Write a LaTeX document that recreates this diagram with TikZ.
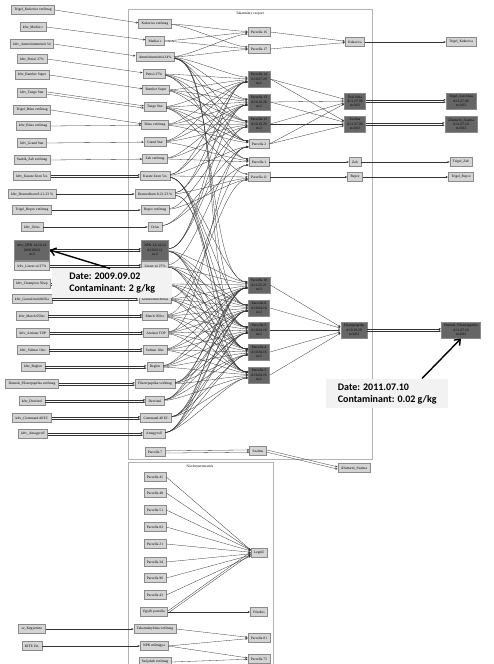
\documentclass[tikz,border=0pt]{standalone}
\usepackage{fontspec}
\setmainfont{Liberation Serif}
\newfontfamily\annfont{Carlito}
\usetikzlibrary{arrows.meta,calc}
\definecolor{nodefill}{HTML}{D4D4D4}
\definecolor{nodeline}{HTML}{8A8A8A}
\definecolor{darkfill}{HTML}{666666}
\definecolor{clline}{HTML}{B4B4B4}
\definecolor{edgecol}{HTML}{333333}
\definecolor{annfill}{HTML}{F2F2F2}
\newcommand\edg[2]{\draw[ed] let \p1=(#1.east), \p2=(#2.west),
  \n1={max(-3,min(3,(\y1-\y2)/12))}, \n2={max(-1.5,min(1.5,(\y2-\y1)/40))}
  in ([yshift=\n2]\p1) to[out=0,in=180,looseness=0.45] ([yshift=\n1]\p2);}
\newcommand\sedg[2]{\draw[ed] let \p1=(#1.east), \p2=(#2.west),
  \n1={max(-3,min(3,(\y1-\y2)/12))}
  in (\p1) -- ([yshift=\n1]\p2);}
\newcommand\dedg[2]{\draw[ed] ([yshift=1.1pt]#1.east) -- ([yshift=1.1pt]#2.west);
  \draw[ed] ([yshift=-1.1pt]#1.east) -- ([yshift=-1.1pt]#2.west);}
\begin{document}
\begin{tikzpicture}[x=1pt,y=-1pt,
  nd/.style={draw=nodeline, fill=nodefill, line width=0.5pt, font=\fontsize{3.6}{4.3}\selectfont,
    inner xsep=3pt, inner ysep=0pt, minimum height=9pt, align=center},
  dk/.style={nd, fill=darkfill, minimum height=16.5pt},
  ed/.style={draw=edgecol, line width=0.3pt, -{Stealth[length=2.4pt,width=1.9pt]}},
  cl/.style={draw=clline, line width=0.9pt},
  cllab/.style={font=\fontsize{3.6}{4.3}\selectfont, inner sep=0pt},
  ann/.style={fill=annfill, font=\annfont\bfseries\fontsize{10}{12}\selectfont, align=left, inner xsep=2pt, inner ysep=2pt},
  bigarrow/.style={line width=1.4pt, -{Straight Barb[length=5pt,width=8pt]}}]
\useasboundingbox (0,0) rectangle (494,664);
\fill[white] (0,0) rectangle (494,664);
% clusters
\draw[cl] (128,9) rectangle (372,459);
\node[cllab] (c1lab) at (250,13.5) {Takarmány csoport};
\draw[cl] (128,668) -- (128,462) -- (273,462) -- (273,668);
\node[cllab] (c2lab) at (200,466.5) {Növénytermesztés};
% left column
\node[nd] (L1) at (33,10) {Trigel\_Kukorica vetőmag};
\node[nd] (L2) at (33,27) {kftv\_Mediai c};
\node[nd] (L3) at (32,44) {kftv\_Ammóniumnitrát 34};
\node[nd] (L4) at (32,59) {kftv\_Petisó 27\%};
\node[nd] (L5) at (32,75) {kftv\_Bamber Super};
\node[nd] (L6) at (32,93) {kftv\_Tango Star};
\node[nd] (L7) at (32,110) {Trigel\_Búza vetőmag};
\node[nd] (L8) at (33,126) {kftv\_Búza vetőmag};
\node[nd] (L9) at (32,143) {kftv\_Grand Star};
\node[nd] (L10) at (32,160) {Szabik\_Zab vetőmag};
\node[nd] (L11) at (32,176) {kftv\_Karate Zeon 5cs};
\node[nd] (L12) at (32,194) {kftv\_Desmeditam 8-21-23 \%};
\node[nd] (L13) at (32,210) {Trigel\_Repce vetőmag};
\node[nd] (L14) at (32,227) {kftv\_Orius};
\node[dk, minimum height=20pt] (L15) at (32,250) {kftv\_NPK 14-14-14\\2009.09.02\\m:2};
\node[nd] (L16) at (32,266) {kftv\_Linzer só 27\%};
\node[nd] (L17) at (32,284) {kftv\_Champion 50wp};
\node[nd] (L18) at (32,299) {kftv\_Granul mulchfólia};
\node[nd] (L19) at (32,316) {kftv\_Match 050ec};
\node[nd] (L20) at (33,333) {kftv\_Amistar TOP};
\node[nd] (L21) at (33,350) {kftv\_Sulmar 10ec};
\node[nd] (L22) at (33,367) {kftv\_Reglon};
\node[nd] (L23) at (32,384) {Dusnok\_Fűszerpaprika vetőmag};
\node[nd] (L24) at (32,401) {kftv\_Devrinol};
\node[nd] (L25) at (32,418) {kftv\_Command 48 EC};
\node[nd] (L26) at (33,434) {kftv\_Amagyroll};
\node[nd] (L27) at (32,629) {sz\_Kegyereno};
\node[nd] (L28) at (32,646) {KITE Zrt.};
% middle column
\node[nd] (M1) at (155,24) {Kukorica vetőmag};
\node[nd] (M2) at (155,41) {Mediai c};
\node[nd] (M3) at (155,57) {Ammóniumnitrát 34\%};
\node[nd] (M4) at (154,74) {Petisó 27\%};
\node[nd] (M5) at (156,90) {Bamber Super};
\node[nd] (M6) at (155,107) {Tango Star};
\node[nd] (M7) at (155,125) {Búza vetőmag};
\node[nd] (M8) at (155,142) {Grand Star};
\node[nd] (M9) at (155,159) {Zab vetőmag};
\node[nd] (M10) at (155,176) {Karate Zeon 5cs};
\node[nd] (M11) at (155,194) {Desmeditam 8-21-23 \%};
\node[nd] (M12) at (155,210) {Repce vetőmag};
\node[nd] (M13) at (155,227) {Orius};
\node[dk, minimum height=20pt] (M14) at (155,250) {NPK 14-14-14\\d:10.03.11\\m:2};
\node[nd] (M15) at (155,266) {Linzer só 27\%};
\node[nd] (M16) at (155,284) {Champion 50wp};
\node[nd] (M17) at (155,299) {Granul mulchfólia};
\node[nd] (M18) at (155,316) {Match 050ec};
\node[nd] (M19) at (156,333) {Amistar TOP};
\node[nd] (M20) at (155,350) {Sulmar 10ec};
\node[nd] (M21) at (155,367) {Reglon};
\node[nd] (M22) at (155,384) {Fűszerpaprika vetőmag};
\node[nd] (M23) at (155,401) {Devrinol};
\node[nd] (M24) at (156,418) {Command 48 EC};
\node[nd] (M25) at (154,434) {Amagyroll};
\node[nd] (M26) at (155,452) {Parcella 7};
% parcella column
\node[nd] (P16) at (259,32) {Parcella 16};
\node[nd] (P17) at (259,49) {Parcella 17};
\node[dk] (P14) at (259,79) {Parcella 14\\d:10.07.29\\m:2};
\node[dk] (P13) at (259,102) {Parcella 13\\d:10.10.28\\m:2};
\node[dk] (P12) at (259,124) {Parcella 12\\d:10.10.29\\m:2};
\node[nd] (P2) at (259,144) {Parcella 2};
\node[nd] (P1) at (259,162) {Parcella 1};
\node[nd] (P11) at (259,177) {Parcella 11};
\node[dk] (P10) at (259,285) {Parcella 10\\d:11.05.21\\m:2};
\node[dk] (P6) at (259,308) {Parcella 6\\d:10.04.16\\m:2};
\node[dk] (P5) at (259,330) {Parcella 5\\d:10.04.16\\m:2};
\node[dk] (P4) at (259,352) {Parcella 4\\d:10.04.16\\m:2};
\node[dk] (P3) at (259,375) {Parcella 3\\d:10.04.16\\m:2};
\node[nd] (SZ) at (258,451) {Szalma};
% right cluster column
\node[nd] (R1) at (355,42) {Kukorica};
\node[dk] (R2) at (355,101) {Őszi búza\\d:11.07.08\\m:0.02};
\node[dk] (R3) at (355,124) {Szalma\\d:11.07.08\\m:0.02};
\node[nd] (R4) at (355,162) {Zab};
\node[nd] (R5) at (355,177) {Repce};
\node[dk] (R6) at (354,330) {Fűszerpaprika\\d:10.10.29\\m:0.02};
% outside right
\node[nd] (O1) at (461,42) {Trigel\_Kukorica};
\node[dk] (O2) at (461,101) {Trigel\_őszi búza\\d:11.07.08\\m:0.02};
\node[dk] (O3) at (461,124) {Állattartó\_Szalma\\d:11.07.10\\m:0.02};
\node[nd] (O4) at (461,162) {Trigel\_Zab};
\node[nd] (O5) at (461,177) {Trigel\_Repce};
\node[dk] (O6) at (461,330) {Dusnok\_Fűszerpaprika\\d:11.07.10\\m:0.02};
\node[nd] (O7) at (354,468) {Állattartó\_Szalma};
% bottom cluster
\node[nd] (B45) at (155,477) {Parcella 45};
\node[nd] (B48) at (155,493) {Parcella 48};
\node[nd] (B51) at (155,510) {Parcella 51};
\node[nd] (B82) at (155,527) {Parcella 82};
\node[nd] (B21) at (155,544) {Parcella 21};
\node[nd] (B34) at (155,562) {Parcella 34};
\node[nd] (B96) at (155,578) {Parcella 96};
\node[nd] (B43) at (155,595) {Parcella 43};
\node[nd] (BEg) at (154,612) {Egyéb parcella};
\node[nd] (BLeg) at (259,553) {Legelő};
\node[nd] (BFes) at (259,612) {Fészkes};
\node[nd] (BTak) at (155,629) {Takarmánybúza vetőmag};
\node[nd] (BNPK) at (154,646) {NPK műtrágya};
\node[nd] (BSzo) at (155,662) {Szójabab vetőmag};
\node[nd] (B81) at (259,638) {Parcella 81};
\node[nd] (B75) at (259,659) {Parcella 75};
% left -> middle
\foreach \s/\t in {L1/M1,L2/M2,L3/M3,L4/M4,L5/M5,L7/M7,L8/M7,L9/M8,L10/M9,L12/M11,L13/M12,L14/M13,L27/BTak,L28/BNPK}
  {\sedg{\s}{\t}}
\foreach \s/\t in {L6/M6,L11/M10,L15/M14,L16/M15,L17/M16,L18/M17,L19/M18,L20/M19,L21/M20,L22/M21,L23/M22,L24/M23,L25/M24,L26/M25}
  {\dedg{\s}{\t}}
% middle -> parcella
\foreach \s/\t in {M1/P16,M1/P17,M2/P16,M2/P17,
  M3/P16,M3/P17,M3/P14,M3/P13,M3/P12,M3/P2,M3/P10,M3/P6,M3/P5,
  M4/P14,M4/P13,M4/P12,M4/P2,M4/P1,
  M5/P14,M5/P13,M5/P12,M5/P2,
  M6/P14,M6/P13,M6/P12,M6/P2,M6/P1,M6/P11,
  M7/P14,M7/P13,M7/P12,M7/P2,
  M8/P14,M8/P13,M8/P12,M8/P1,
  M9/P1,M9/P13,M9/P12,
  M10/P11,M10/P14,M10/P13,M10/P2,M10/P10,M10/P6,M10/P5,M10/P4,
  M11/P11,M11/P14,M11/P13,M11/P4,M11/P3,
  M12/P11,M12/P12,M13/P2,M13/P1,
  M14/P14,M14/P13,M14/P12,M14/P10,M14/P6,M14/P5,M14/P4,M14/P3,
  M15/P10,M15/P6,M15/P5,M15/P4,M15/P3,M15/P2,
  M16/P10,M16/P6,M16/P5,M16/P4,M16/P3,
  M17/P10,M17/P6,M17/P5,M17/P4,M17/P3,M17/P1,
  M18/P10,M18/P6,M18/P5,M18/P4,M18/P3,M18/P11,
  M19/P10,M19/P6,M19/P5,M19/P4,M19/P3,M19/P2,
  M20/P10,M20/P6,M20/P5,M20/P4,M20/P3,
  M21/P10,M21/P6,M21/P5,M21/P4,M21/P3,
  M22/P10,M22/P6,M22/P5,M22/P4,M22/P3,
  M23/P10,M23/P6,M23/P5,M23/P4,M23/P3,
  M24/P10,M24/P6,M24/P5,M24/P4,M24/P3,
  M25/P10,M25/P6,M25/P5,M25/P4,M25/P3}
  {\edg{\s}{\t}}
% parcella -> products
\foreach \s/\t in {P16/R1,P17/R1,R1/O1,P14/R2,P14/R3,P13/R2,P13/R3,P12/R2,P12/R3,P2/R2,P2/R3,
  P1/R4,R4/O4,P11/R5,R5/O5,P10/R6,P6/R6,P5/R6,P4/R6,P3/R6}
  {\sedg{\s}{\t}}
\foreach \s/\t in {R2/O2,R3/O3,R6/O6,M26/SZ,SZ/O7}
  {\dedg{\s}{\t}}
% bottom cluster edges
\foreach \s/\t in {B45/BLeg,B48/BLeg,B51/BLeg,B82/BLeg,B21/BLeg,B34/BLeg,B96/BLeg,B43/BLeg,
  BEg/BFes,BTak/B81,BNPK/B81,BNPK/B75,BSzo/B75}
  {\sedg{\s}{\t}}
\dedg{BEg}{BLeg}
% annotations
\node[ann, minimum width=120pt, minimum height=30pt, anchor=north west] (A1) at (52,268) {Date: 2009.09.02\\Contaminant: 2 g/kg};
\coordinate (A1t) at (110,268.5);
\draw[bigarrow] (A1t) -- (L15.east);
\node[ann, minimum width=122pt, minimum height=29pt, anchor=north west] (A2) at (326,379) {Date: 2011.07.10\\Contaminant: 0.02 g/kg};
\coordinate (A2t) at (422,378.5);
\draw[bigarrow] (A2t) -- (O6.south);
\end{tikzpicture}
\end{document}
